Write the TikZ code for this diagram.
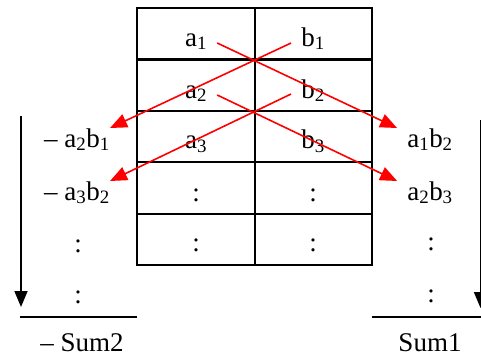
\documentclass[tikz,border=0pt]{standalone}
\usepackage{fontspec}
\setmainfont{Liberation Serif}
\usetikzlibrary{arrows.meta}
\newcommand{\term}[4]{#1\textsubscript{#2}#3\textsubscript{#4}}

\begin{document}
\begin{tikzpicture}[x=1pt, y=-1pt,
  cell/.style={inner sep=0pt, anchor=base, font=\fontsize{27}{32}\selectfont},
  cross/.style={red, line width=1.6pt, -{Triangle[length=17pt,width=14pt]}},
  down/.style={line width=1.7pt, -{Triangle[length=16pt,width=13pt]}},
  rule/.style={line width=2.2pt}]
  \useasboundingbox (0,0) rectangle (481,356);
  % table
  \draw[rule] (137,8) rectangle (372,265);
  \foreach \y in {59.4,110.8,162.2,213.6} \draw[rule] (137,\y) -- (372,\y);
  \draw[rule] (255,8) -- (255,265);
  \node[cell] (a1) at (196,46) {a\textsubscript{1}};
  \node[cell] (b1) at (313,46) {b\textsubscript{1}};
  \node[cell] (a2) at (196,98) {a\textsubscript{2}};
  \node[cell] (b2) at (313,98) {b\textsubscript{2}};
  \node[cell] (a3) at (196,148.5) {a\textsubscript{3}};
  \node[cell] (b3) at (313,148.5) {b\textsubscript{3}};
  \node[cell] (a4) at (196,201) {:};
  \node[cell] (b4) at (313,201) {:};
  \node[cell] (a5) at (196,251) {:};
  \node[cell] (b5) at (313,251) {:};
  % products
  \node[cell] (m21) at (77,147) {– \term{a}{2}{b}{1}};
  \node[cell] (m32) at (77,200) {– \term{a}{3}{b}{2}};
  \node[cell] (mdots1) at (78,252) {:};
  \node[cell] (mdots2) at (78,303) {:};
  \node[cell] (p12) at (430,147) {\term{a}{1}{b}{2}};
  \node[cell] (p23) at (430,200) {\term{a}{2}{b}{3}};
  \node[cell] (pdots1) at (431,250) {:};
  \node[cell] (pdots2) at (431,302) {:};
  \node[cell] (sum2) at (82,351) {– Sum2};
  \node[cell] (sum1) at (430,351) {Sum1};
  % cross products
  \draw[cross] ([xshift=10pt,yshift=3pt]a1.base east) -- ([xshift=-10pt,yshift=19pt]p12.base west);
  \draw[cross] ([xshift=-10pt,yshift=3pt]b1.base west) -- ([yshift=19pt]m21.base east);
  \draw[cross] ([xshift=10pt,yshift=3pt]a2.base east) -- ([xshift=-10pt,yshift=19pt]p23.base west);
  \draw[cross] ([xshift=-10pt,yshift=4pt]b2.base west) -- ([yshift=19pt]m32.base east);
  % sums
  \coordinate (ltop) at (21,116);
  \coordinate (lbot) at (21,307);
  \coordinate (rtop) at (480.5,120);
  \coordinate (rbot) at (480.5,308);
  \draw[down] (ltop) -- (lbot);
  \draw[down] (rtop) -- (rbot);
  \draw[rule] (20,317) -- (137,317);
  \draw[rule] (372,317) -- (481,317);
\end{tikzpicture}
\end{document}
